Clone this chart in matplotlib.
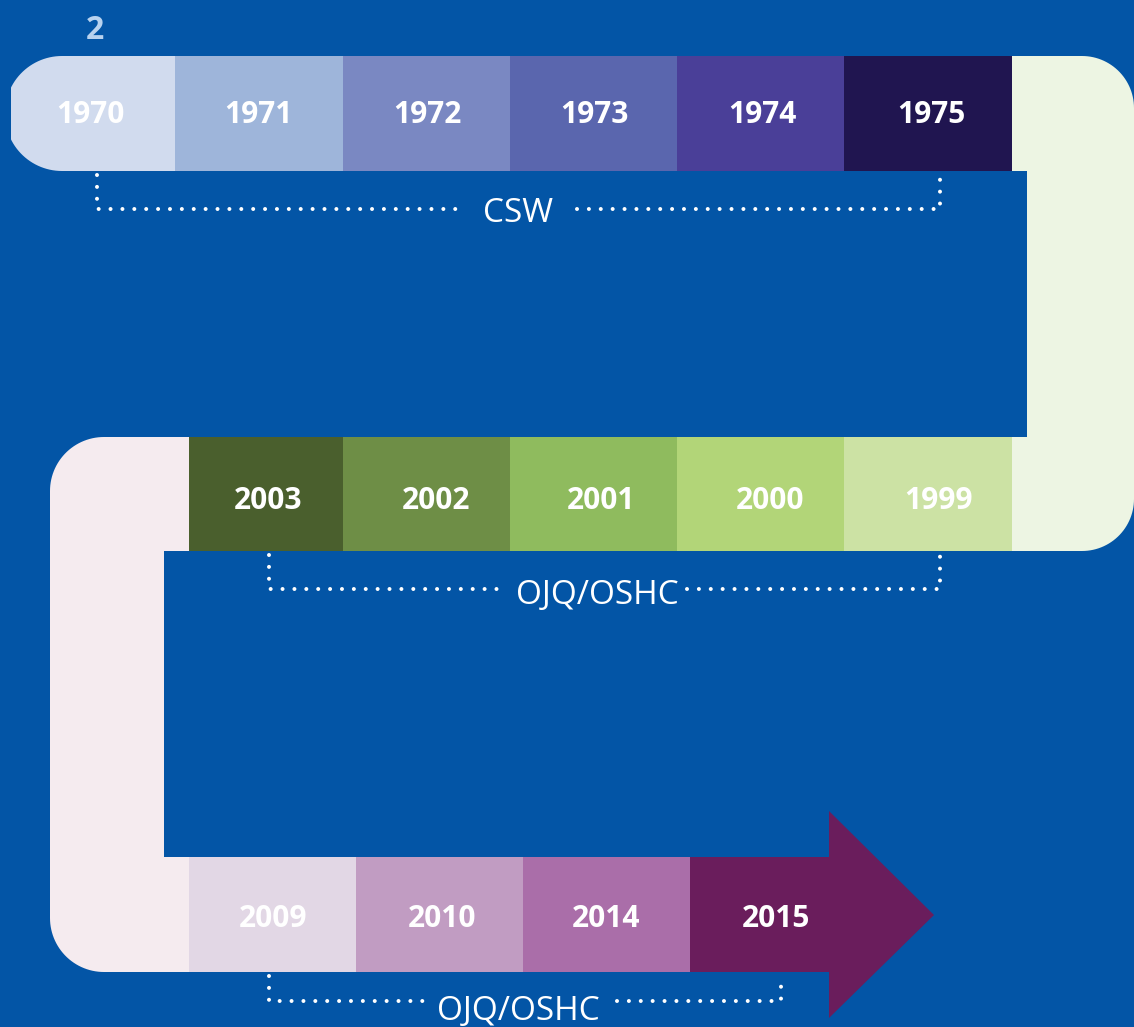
import matplotlib
matplotlib.use("Agg")
import matplotlib.pyplot as plt
from matplotlib.patches import Rectangle, Polygon
import numpy as np

# data
top_years = ['1970', '1971', '1972', '1973', '1974', '1975']
top_colors = ['#D1DBEE', '#9EB5DA', '#7A88C2', '#5A66AE', '#4A3F98', '#201550']
mid_years = ['2003', '2002', '2001', '2000', '1999']
mid_colors = ['#4A5F2D', '#6E8E46', '#8FBB5E', '#B2D578', '#CCE2A4']
low_years = ['2009', '2010', '2014', '2015']
low_colors = ['#E2D7E5', '#C19CC2', '#AA6EA9', '#6A1D5C']
brackets = ['CSW', 'OJQ/OSHC', 'OJQ/OSHC']
panel_label = '2'

# layout (pixel coords, y down)
BG = '#0355A6'
top_edges = [11, 175, 343, 510, 677, 844, 1012]
mid_edges = [189, 343, 510, 677, 844, 1012]
low_edges = [189, 356, 523, 690, 830]
top_y, mid_y, low_y = (56, 171), (437, 551), (857, 972)
top_tx = [90, 258, 427, 594, 762, 931]
mid_tx = [268, 436, 601, 770, 938]
low_tx = [273, 442, 606, 776]


def rrect(x0, y0, x1, y1, r, corners=('tl', 'tr', 'br', 'bl'), **kw):
    # rounded rectangle with circular corners, y axis pointing down
    spec = [('tl', x0 + r, y0 + r, 180, (x0, y0)),
            ('tr', x1 - r, y0 + r, 270, (x1, y0)),
            ('br', x1 - r, y1 - r, 0, (x1, y1)),
            ('bl', x0 + r, y1 - r, 90, (x0, y1))]
    pts = []
    for name, cx, cy, a0, corner in spec:
        if name in corners:
            t = np.radians(np.linspace(a0, a0 + 90, 30))
            pts += list(zip(cx + r * np.cos(t), cy + r * np.sin(t)))
        else:
            pts.append(corner)
    return Polygon(pts, closed=True, **kw)


fig = plt.figure(figsize=(11.34, 10.27), dpi=100, facecolor=BG)
ax = fig.add_axes([0, 0, 1, 1])
ax.set_xlim(0, 1134)
ax.set_ylim(1027, 0)
ax.axis('off')
ax.set_facecolor(BG)

# light turn pieces
ax.add_patch(rrect(900, 56, 1134, 551, 52, fc='#EDF5E3', ec='none', zorder=1))
ax.add_patch(rrect(50, 437, 270, 972, 54, fc='#F5EBEF', ec='none', zorder=1))
# blue gaps
ax.add_patch(Rectangle((164, 171), 863, 266, fc=BG, ec='none', zorder=2))
ax.add_patch(Rectangle((164, 551), 863, 306, fc=BG, ec='none', zorder=2))


def row(edges, yr, colors):
    e = np.array(edges)
    return ax.barh((yr[0] + yr[1]) / 2, np.diff(e), left=e[:-1], height=yr[1] - yr[0],
                   color=colors, edgecolor='none', zorder=3)


bars = row(top_edges, top_y, top_colors)
clip = rrect(5, 56, 300, 171, 57, corners=('tl', 'bl'), transform=ax.transData,
             fc='none', ec='none')
bars[0].set_clip_path(clip)
row(mid_edges, mid_y, mid_colors)
row(low_edges, low_y, low_colors)

# arrow head
ax.add_patch(Polygon([(829, 811), (934, 915), (829, 1018)], closed=True,
                     fc=low_colors[-1], ec='none', zorder=3))

font = 'Open Sans'
for labels, xs, base in [(top_years, top_tx, 123), (mid_years, mid_tx, 509), (low_years, low_tx, 927)]:
    for lab, x in zip(labels, xs):
        ax.text(x, base, lab, color='white', fontsize=21.5, fontweight='bold', family=font,
                ha='center', va='baseline', zorder=5)

ax.text(95, 39, panel_label, color='#B8D2EF', fontsize=23, fontweight='bold', family=font,
        ha='center', va='baseline', zorder=5)

# dotted brackets
dot = dict(color='white', lw=2.9, linestyle=(0, (0.001, 2.95)), dash_capstyle='round',
           solid_capstyle='round', zorder=4)
specs = [
    (brackets[0], 97, 940, 175, 209, 458, 577, 518, 222),
    (brackets[1], 269, 940, 555, 589, 500, 687, 597, 604),
    (brackets[2], 269, 781, 976, 1001, 430, 617, 518, 1020),
]
for lab, xl, xr, ytop, yh, gl, gr, tx, tb in specs:
    ax.plot([xl, xl, gl], [ytop, yh, yh], **dot)
    ax.plot([gr, xr, xr], [yh, yh, ytop], **dot)
    ax.text(tx, tb, lab, color='white', fontsize=24, family=font,
            ha='center', va='baseline', zorder=5)

fig.savefig('out.png', dpi=100, facecolor=BG)
